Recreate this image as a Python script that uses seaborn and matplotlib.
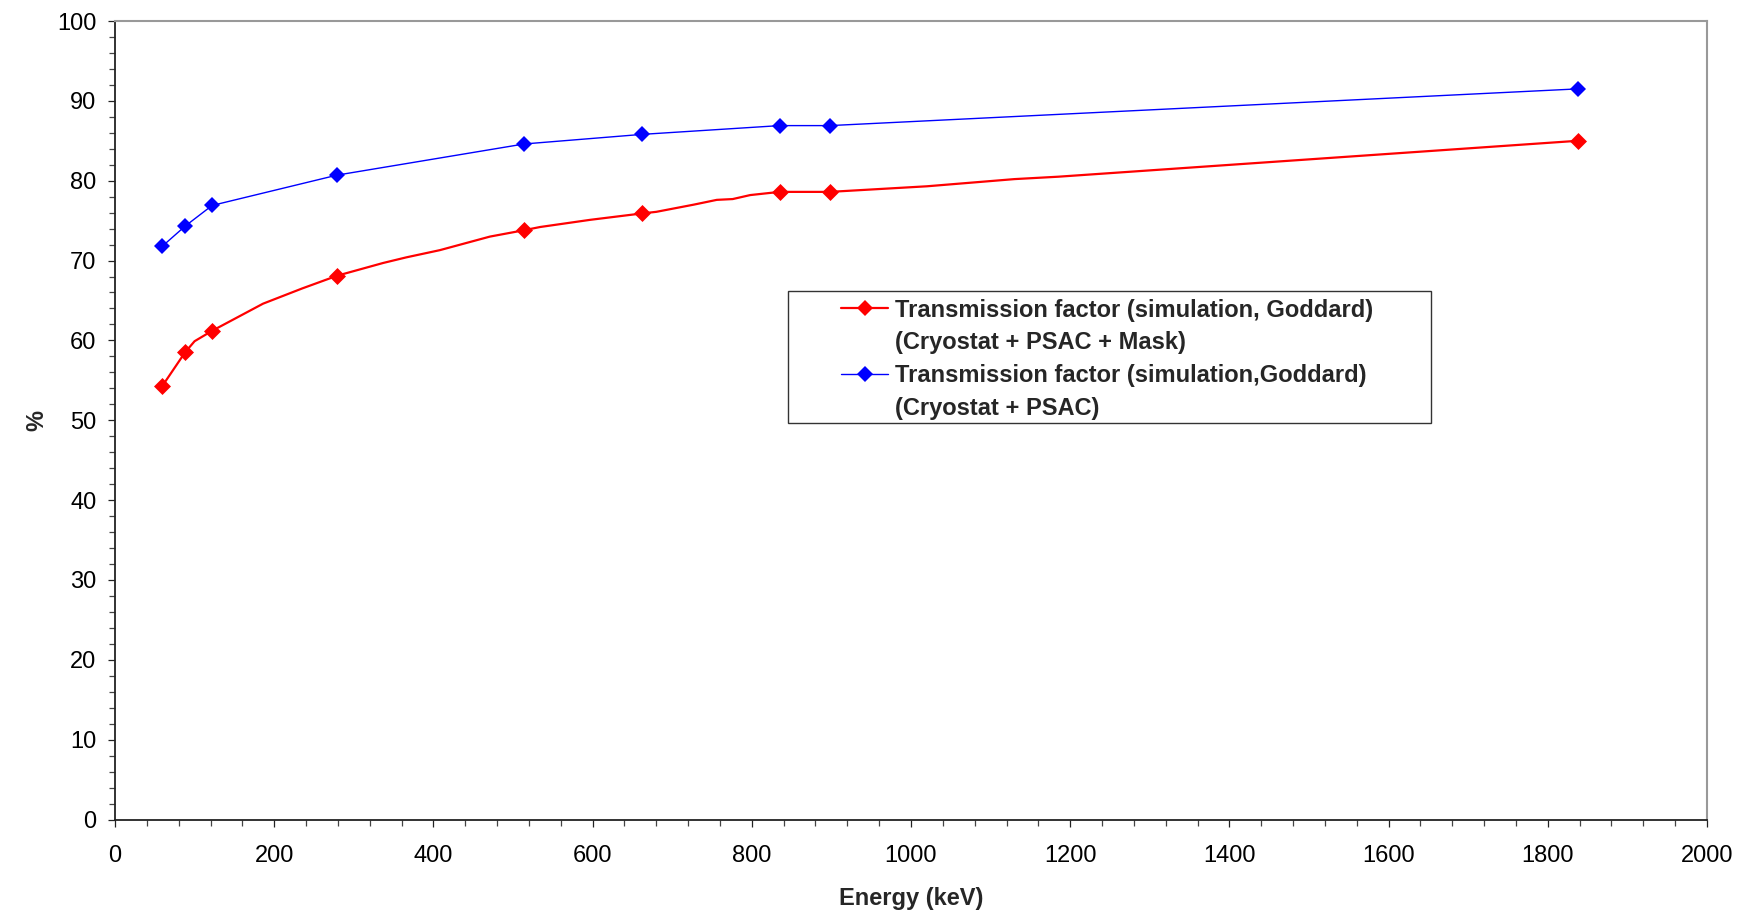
import matplotlib
matplotlib.use("Agg")
import matplotlib.pyplot as plt
import seaborn as sns
import pandas as pd
from matplotlib.lines import Line2D
from matplotlib.patches import Rectangle
from matplotlib.ticker import MultipleLocator

# ---- data ----
marker_energy = [59.5, 88, 122, 279, 514, 662, 835, 898, 1838]
blue_values = [71.8, 74.3, 76.9, 80.7, 84.6, 85.8, 86.9, 86.9, 91.5]
red_values = [54.3, 58.5, 61.2, 68.1, 73.8, 75.9, 78.6, 78.6, 85.0]

# red curve (dense simulation line)
red_line_energy = [59.5, 88, 100, 122, 186, 235, 279, 337, 366, 408, 471, 514,
                   534, 597, 662, 680, 727, 756, 776, 798, 835, 898, 1020,
                   1130, 1185, 1838]
red_line_values = [54.3, 58.5, 59.9, 61.2, 64.6, 66.5, 68.1, 69.7, 70.4, 71.3,
                   73.0, 73.8, 74.2, 75.1, 75.9, 76.1, 77.0, 77.6, 77.7, 78.2,
                   78.6, 78.6, 79.3, 80.2, 80.5, 85.0]

label_red = ["Transmission factor (simulation, Goddard)", "(Cryostat + PSAC + Mask)"]
label_blue = ["Transmission factor (simulation,Goddard)", "(Cryostat + PSAC)"]

RED = "#ff0000"
BLUE = "#0000ff"
FS = 17

sns.set_style("white")
plt.rcParams["font.family"] = ["Liberation Sans", "DejaVu Sans"]

W, H = 1741, 915
fig = plt.figure(figsize=(W / 100, H / 100), dpi=100)
ax = fig.add_axes([115 / W, 1 - 819.5 / H, 1592 / W, 798.5 / H])

df_red_line = pd.DataFrame({"E": red_line_energy, "v": red_line_values})
df_pts = pd.DataFrame({"E": marker_energy, "blue": blue_values, "red": red_values})

sns.lineplot(data=df_red_line, x="E", y="v", ax=ax, color=RED, lw=1.6,
             sort=False, estimator=None)
sns.scatterplot(data=df_pts, x="E", y="red", ax=ax, color=RED, marker="D",
                s=75, edgecolor=RED, linewidth=0, zorder=4)
sns.lineplot(data=df_pts, x="E", y="blue", ax=ax, color=BLUE, lw=1.0,
             sort=False, estimator=None, marker="D", markersize=8.5,
             markeredgecolor=BLUE, markeredgewidth=0)

ax.set_xlim(0, 2000)
ax.set_ylim(0, 100)
ax.xaxis.set_major_locator(MultipleLocator(200))
ax.xaxis.set_minor_locator(MultipleLocator(40))
ax.yaxis.set_major_locator(MultipleLocator(10))
ax.yaxis.set_minor_locator(MultipleLocator(2))
ax.tick_params(axis="both", which="major", direction="out", length=5.3, width=0.9,
               color="#222222", labelsize=FS, labelcolor="black")
ax.tick_params(axis="both", which="minor", direction="out", length=4.1, width=0.9,
               color="#444444")
ax.tick_params(axis="y", which="major", pad=8)
ax.tick_params(axis="x", which="major", pad=13)
ax.tick_params(bottom=True, left=True, which="both")

for side in ["left", "bottom"]:
    ax.spines[side].set_color("#222222")
    ax.spines[side].set_linewidth(1.3)
for side in ["top", "right"]:
    ax.spines[side].set_color("#999999")
    ax.spines[side].set_linewidth(1.5)

ax.set_xlabel("Energy (keV)", fontsize=FS, fontweight="bold", labelpad=14.5)
ax.set_ylabel("%", fontsize=FS, fontweight="bold", labelpad=6)

# legend frame
fig.patches.append(Rectangle((788 / W, 1 - 423 / H), (1431 - 788) / W, (423 - 291) / H,
                             transform=fig.transFigure, facecolor="white",
                             edgecolor="#333333", linewidth=1.0, zorder=5))

handles = [
    Line2D([], [], color=RED, lw=1.6, marker="D", markersize=8.5, markeredgewidth=0),
    Line2D([], [], color="none"),
    Line2D([], [], color=BLUE, lw=1.0, marker="D", markersize=8.5, markeredgewidth=0),
    Line2D([], [], color="none"),
]
labels = [label_red[0], label_red[1], label_blue[0], label_blue[1]]
leg = fig.legend(handles, labels, loc="upper left",
                 bbox_to_anchor=(841 / W, 1 - 298.5 / H),
                 borderaxespad=0, borderpad=0, frameon=False,
                 handlelength=2.0, handletextpad=0.28, labelspacing=0.41,
                 prop={"size": FS, "weight": "bold"})
leg.set_zorder(6)

fig.savefig("out.png", dpi=100)
